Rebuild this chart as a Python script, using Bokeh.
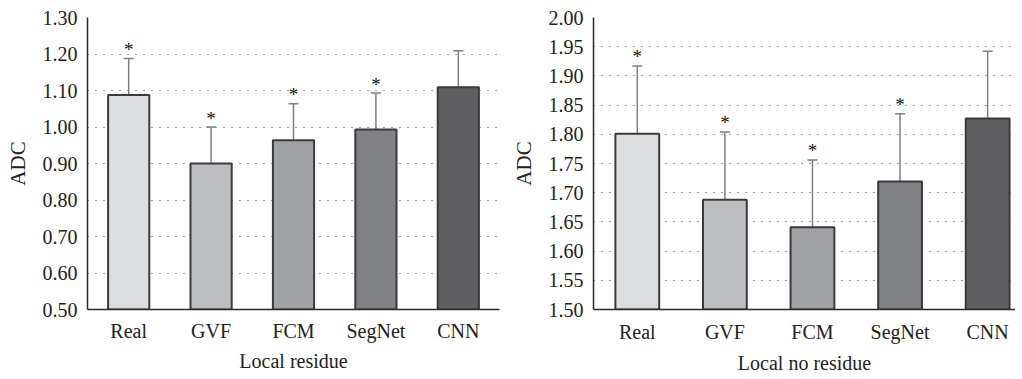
from bokeh.plotting import figure
from bokeh.layouts import row
from bokeh.models import Range1d, FixedTicker, Whisker, TeeHead, ColumnDataSource, NumeralTickFormatter
from bokeh.core.properties import value
from bokeh.embed import file_html
from bokeh.resources import INLINE

methods = ["Real", "GVF", "FCM", "SegNet", "CNN"]
colors = ["#dcdddf", "#bcbdc0", "#a0a1a4", "#808184", "#5f5f61"]

res_mean = [1.088, 0.900, 0.964, 0.993, 1.109]
res_err = [0.100, 0.100, 0.100, 0.100, 0.100]
res_sig = [True, True, True, True, False]
res_ticks = [0.50, 0.60, 0.70, 0.80, 0.90, 1.00, 1.10, 1.20, 1.30]

nores_mean = [1.801, 1.688, 1.641, 1.719, 1.827]
nores_err = [0.116, 0.116, 0.115, 0.116, 0.115]
nores_sig = [True, True, True, True, False]
nores_ticks = [1.50, 1.55, 1.60, 1.65, 1.70, 1.75, 1.80, 1.85, 1.90, 1.95, 2.00]

FONT = "Liberation Serif"


def make(mean, err, sig, ticks, xlabel, width, bl, br, bb, xend, tstand, lstand):
    xs = list(range(len(methods)))
    p = figure(width=width, height=376, output_backend="svg", toolbar_location=None,
               x_range=Range1d(-0.5, xend), y_range=Range1d(ticks[0], ticks[-1]),
               min_border_left=bl, min_border_right=br, min_border_top=17, min_border_bottom=bb)
    p.outline_line_color = None
    p.background_fill_color = "white"
    p.border_fill_color = "white"
    p.xgrid.grid_line_color = None
    p.ygrid.grid_line_color = "#3a3a3a"
    p.ygrid.grid_line_dash = "1 7"
    p.ygrid.grid_line_width = 1.2
    p.ygrid.ticker = FixedTicker(ticks=ticks)

    src = ColumnDataSource(dict(x=xs, top=mean, color=colors,
                                upper=[m + e for m, e in zip(mean, err)],
                                lower=[m - e for m, e in zip(mean, err)]))
    p.vbar(x="x", top="top", bottom=0, width=0.5, fill_color="color",
           line_color="#3a3a3a", line_width=2, source=src)
    w = Whisker(base="x", upper="upper", lower="lower", source=src,
                line_color="#7f7f7f", line_width=1.5,
                upper_head=TeeHead(size=10, line_color="#7f7f7f", line_width=1.5),
                lower_head=TeeHead(size=10, line_color="#7f7f7f", line_width=1.5))
    p.add_layout(w)

    sx = [x for x, s in zip(xs, sig) if s]
    sy = [m + e for m, e, s in zip(mean, err, sig) if s]
    p.text(x=sx, y=sy, text=["*"] * len(sx), text_font=value(FONT), text_font_size="19px",
           text_align="center", text_baseline="middle", y_offset=-9, text_color="#111111")

    p.xaxis.ticker = FixedTicker(ticks=xs)
    p.xaxis.major_label_overrides = {i: m for i, m in enumerate(methods)}
    p.yaxis.ticker = FixedTicker(ticks=ticks)
    p.yaxis.formatter = NumeralTickFormatter(format="0.00")
    for ax in (p.xaxis, p.yaxis):
        ax.major_tick_line_color = None
        ax.minor_tick_line_color = None
        ax.major_tick_out = 0
        ax.major_tick_in = 0
        ax.axis_line_color = "#2a2a2a"
        ax.axis_line_width = 1.5
        ax.major_label_text_font = FONT
        ax.major_label_text_font_size = "20px"
        ax.major_label_text_color = "#222222"
        ax.axis_label_text_font = FONT
        ax.axis_label_text_font_size = "20px"
        ax.axis_label_text_font_style = "normal"
        ax.axis_label_text_color = "#222222"
    p.yaxis.axis_label_text_font_size = "21px"
    p.xaxis.major_label_standoff = tstand
    p.yaxis.major_label_standoff = 10
    p.xaxis.axis_label = xlabel
    p.yaxis.axis_label = "ADC"
    p.xaxis.axis_label_standoff = lstand
    p.yaxis.axis_label_standoff = 10
    return p


left = make(res_mean, res_err, res_sig, res_ticks, "Local residue", 508, 87, 9, 65, 4.5, 10, 5)
right = make(nores_mean, nores_err, nores_sig, nores_ticks, "Local no residue", 507, 83, 0, 67, 4.318, 11, 6)

layout = row(left, right)
open("out.html", "w").write(file_html(layout, INLINE))
